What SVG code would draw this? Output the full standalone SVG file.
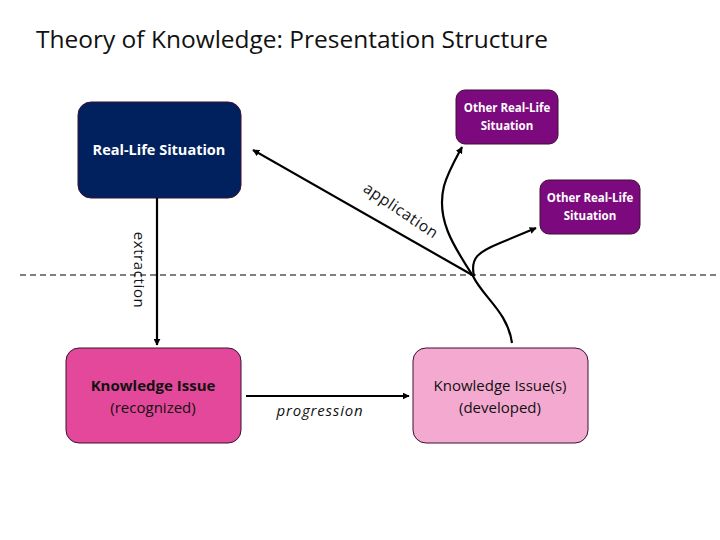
<svg xmlns="http://www.w3.org/2000/svg" width="720" height="540" viewBox="0 0 720 540">
<defs>
<marker id="ah" viewBox="0 0 10 10" refX="9" refY="5" markerWidth="7" markerHeight="7" markerUnits="userSpaceOnUse" orient="auto">
<path d="M0,0 L10,5 L0,10 z" fill="#000"/>
</marker>
<style>
.t{font-family:"Open Sans","Liberation Sans",Arial,sans-serif}
.box{stroke:#3a1030;stroke-width:1}
.w{fill:#fff;font-family:"Open Sans","Liberation Sans",sans-serif;font-weight:bold;text-anchor:middle}
.k{fill:#111;font-family:"Open Sans","Liberation Sans",sans-serif;text-anchor:middle;font-size:15px}
.ln{fill:none;stroke:#000;stroke-width:2.2}
</style>
</defs>
<rect width="720" height="540" fill="#fff"/>
<text class="t" x="36" y="48" font-size="23" fill="#111" textLength="512" lengthAdjust="spacingAndGlyphs">Theory of Knowledge: Presentation Structure</text>
<line x1="20" y1="275" x2="720" y2="275" stroke="#000" stroke-width="1" stroke-dasharray="6,4"/>
<g id="rls">
<rect class="box" x="78" y="102" width="163" height="96" rx="13" fill="#00215E"/>
<text class="w" x="159" y="155" font-size="14.5">Real-Life Situation</text>
</g>
<g id="orls1">
<rect class="box" x="456" y="90" width="102" height="54" rx="9" fill="#7C0A7E"/>
<text class="w" x="507" y="112" font-size="11.5">Other Real-Life</text>
<text class="w" x="507" y="130" font-size="11.5">Situation</text>
</g>
<g id="orls2">
<rect class="box" x="540" y="180" width="100" height="54" rx="9" fill="#7C0A7E"/>
<text class="w" x="590" y="202" font-size="11.5">Other Real-Life</text>
<text class="w" x="590" y="220" font-size="11.5">Situation</text>
</g>
<g id="ki">
<rect class="box" x="66" y="348" width="175" height="95" rx="13" fill="#E4489A"/>
<text class="k" x="153" y="391" font-weight="bold">Knowledge Issue</text>
<text class="k" x="153" y="413">(recognized)</text>
</g>
<g id="kid">
<rect class="box" x="413" y="348" width="175" height="95" rx="13" fill="#F4AAD0"/>
<text class="k" x="500" y="391">Knowledge Issue(s)</text>
<text class="k" x="500" y="413">(developed)</text>
</g>
<g id="connectors">
<line class="ln" x1="157" y1="198" x2="157" y2="345" marker-end="url(#ah)"/>
<line class="ln" x1="246" y1="396" x2="409" y2="396" marker-end="url(#ah)"/>
<line class="ln" x1="474" y1="276" x2="253" y2="150" marker-end="url(#ah)"/>
<path class="ln" d="M512,343 C508,312 482,296 473,276 C452,244 436,218 444,186 C448,172 455,160 462,147" marker-end="url(#ah)"/>
<path class="ln" d="M474,276 C470,258 478,252 500,243 L536,228" marker-end="url(#ah)"/>
<text class="t" x="0" y="0" font-size="15.5" fill="#111" letter-spacing="0.6" text-anchor="middle" transform="translate(398,215) rotate(34)">application</text>
<text class="t" x="0" y="0" font-size="15" fill="#111" letter-spacing="0.6" text-anchor="middle" transform="translate(134,270) rotate(90)">extraction</text>
<text class="t" x="320" y="416" font-size="15" fill="#111" font-style="italic" text-anchor="middle" letter-spacing="0.8">progression</text>
</g>
</svg>
